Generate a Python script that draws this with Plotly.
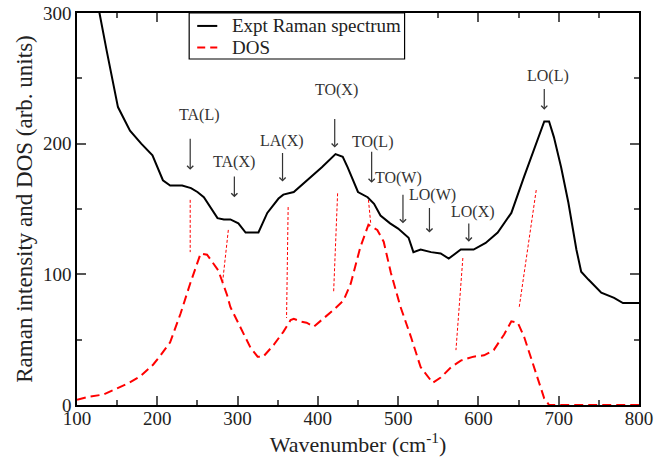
import plotly.graph_objects as go

# Experimental Raman spectrum (black)
raman_x = [124, 128, 137, 151, 166, 180, 194, 207, 216, 231, 242, 250, 258, 268, 275, 283, 291,
           301, 310, 326, 337, 351, 357, 370, 387, 405, 422, 431, 437, 450, 462, 470, 478, 490,
           500, 513, 519, 528, 541, 553, 563, 578, 594, 609, 624, 641, 657, 669, 682, 688, 694,
           703, 712, 722, 728, 737, 753, 769, 780, 800]
raman_y = [315, 300, 271, 228, 210, 200, 191, 172, 168, 168, 166, 163, 159, 149, 143, 142, 142,
           139, 132, 132, 147, 158, 161, 163, 172, 182, 192, 190, 182, 163, 159, 154, 145, 139,
           135, 128, 117, 119, 117, 116, 112, 119, 119, 124, 132, 147, 175, 196, 217, 217, 205,
           182, 155, 119, 102, 96, 86, 82, 78, 78]

# DOS (red dashed)
dos_x = [100, 116, 133, 151, 165, 179, 195, 204, 216, 229, 241, 254, 262, 276, 287, 291, 303,
         316, 325, 332, 345, 357, 366, 370, 378, 386, 395, 403, 420, 432, 441, 453, 463, 474,
         482, 491, 503, 516, 528, 543, 553, 566, 578, 594, 607, 619, 632, 641, 649, 657, 669,
         682, 688, 700, 750, 800]
dos_y = [4, 6.5, 8, 13, 17, 22, 31, 38, 48, 70, 93, 116, 115, 103, 84, 75, 60,
         44, 37, 37, 46, 56, 65, 66, 64, 63, 60, 64, 73, 80, 93, 121, 138, 134,
         125, 101, 75, 52, 29, 17, 21, 29, 34, 37, 38, 42, 54, 64, 63, 52, 29,
         5, 0, 0, 0, 0]

# Phonon mode labels and arrows
mode_labels = ["TA(L)", "TA(X)", "LA(X)", "TO(X)", "TO(L)", "TO(W)", "LO(W)", "LO(X)", "LO(L)"]
label_x = [252, 296, 355, 423, 468, 500, 543, 593, 687]
label_y = [222, 186, 202, 241, 201, 174, 161, 148, 252]
arrow_x = [241, 296, 356, 421, 467, 506, 539, 588, 682]
arrow_tail_y = [205, 176, 194, 220, 195, 162, 152, 140, 243]
arrow_tip_y = [180, 159, 171, 197, 170, 139, 132, 125, 226]

# Thin red connector lines (x0, y0, x1, y1)
conn_x0 = [241, 288.5, 363, 424.6, 463, 580.6, 672]
conn_y0 = [157, 134, 151.5, 162, 157, 112.5, 164.5]
conn_x1 = [241, 281, 361, 419.6, 466, 572, 650.6]
conn_y1 = [117, 92, 66.6, 85.7, 138, 42, 74]

# Legend entries
legend_names = ["Expt Raman spectrum", "DOS"]
legend_colors = ["black", "red"]
legend_dashes = ["solid", "8px,5px"]

serif = "Liberation Serif, Times New Roman, Times, serif"

fig = go.Figure()
fig.add_trace(go.Scatter(x=raman_x, y=raman_y, mode="lines", name=legend_names[0],
                         showlegend=False, line=dict(color="black", width=2)))
fig.add_trace(go.Scatter(x=dos_x, y=dos_y, mode="lines", name=legend_names[1], cliponaxis=False,
                         showlegend=False, line=dict(color="red", width=2, dash="9px,5px")))
for i in range(len(conn_x0)):
    fig.add_trace(go.Scatter(x=[conn_x0[i], conn_x1[i]], y=[conn_y0[i], conn_y1[i]],
                             mode="lines", showlegend=False, hoverinfo="skip",
                             line=dict(color="red", width=1, dash="3px,2px")))

for i, t in enumerate(mode_labels):
    fig.add_annotation(x=label_x[i], y=label_y[i], text=t, showarrow=False,
                       font=dict(family=serif, size=16, color="#333"))
    fig.add_annotation(x=arrow_x[i], y=arrow_tip_y[i], ax=arrow_x[i], ay=arrow_tail_y[i],
                       axref="x", ayref="y", text="", showarrow=True,
                       arrowhead=4, arrowsize=1, arrowwidth=1.2, arrowcolor="#333")

# Hand-built legend box (paper coordinates)
fig.add_shape(type="rect", xref="paper", yref="paper", x0=0.1996, x1=0.5829, y0=0.8827, y1=1.0,
              line=dict(color="black", width=1.2), fillcolor="white", layer="above")
legend_y = [0.967, 0.912]
for i, name in enumerate(legend_names):
    fig.add_shape(type="line", xref="paper", yref="paper", x0=0.2139, x1=0.2496,
                  y0=legend_y[i], y1=legend_y[i], layer="above",
                  line=dict(color=legend_colors[i], width=2, dash=legend_dashes[i]))
    fig.add_annotation(xref="paper", yref="paper", x=0.2727, y=legend_y[i], text=name,
                       xanchor="left", yanchor="middle", showarrow=False,
                       font=dict(family=serif, size=19, color="#222"))

axis_common = dict(showline=True, linecolor="black", linewidth=1.5, mirror="allticks",
                   ticks="inside", ticklen=9, tickwidth=1.5, tickcolor="#555",
                   showgrid=False, zeroline=False, automargin=False,
                   tickfont=dict(family=serif, size=19, color="#222"))

fig.update_xaxes(range=[100, 800], dtick=100, tick0=100, ticklabelstandoff=-5,
                 minor=dict(ticks="inside", ticklen=5, dtick=50, tickcolor="#555", tickwidth=1.5),
                 title=dict(text="Wavenumber (cm<sup>-1</sup>)", font=dict(family=serif, size=22, color="#222"),
                            standoff=2),
                 **axis_common)
fig.update_yaxes(range=[0, 300], dtick=100,
                 minor=dict(ticks="inside", ticklen=5, dtick=50, tickcolor="#555", tickwidth=1.5),
                 title=dict(text="Raman intensity and DOS (arb. units)", font=dict(family=serif, size=23, color="#222"),
                            standoff=4),
                 **axis_common)

fig.update_layout(
    width=672, height=462,
    margin=dict(l=77, r=33, t=13, b=57),
    paper_bgcolor="white", plot_bgcolor="white",
    showlegend=False,
    font=dict(family=serif),
)

fig.write_html("out.html", post_script="document.body.style.margin='0';",
               config={"displayModeBar": False})
